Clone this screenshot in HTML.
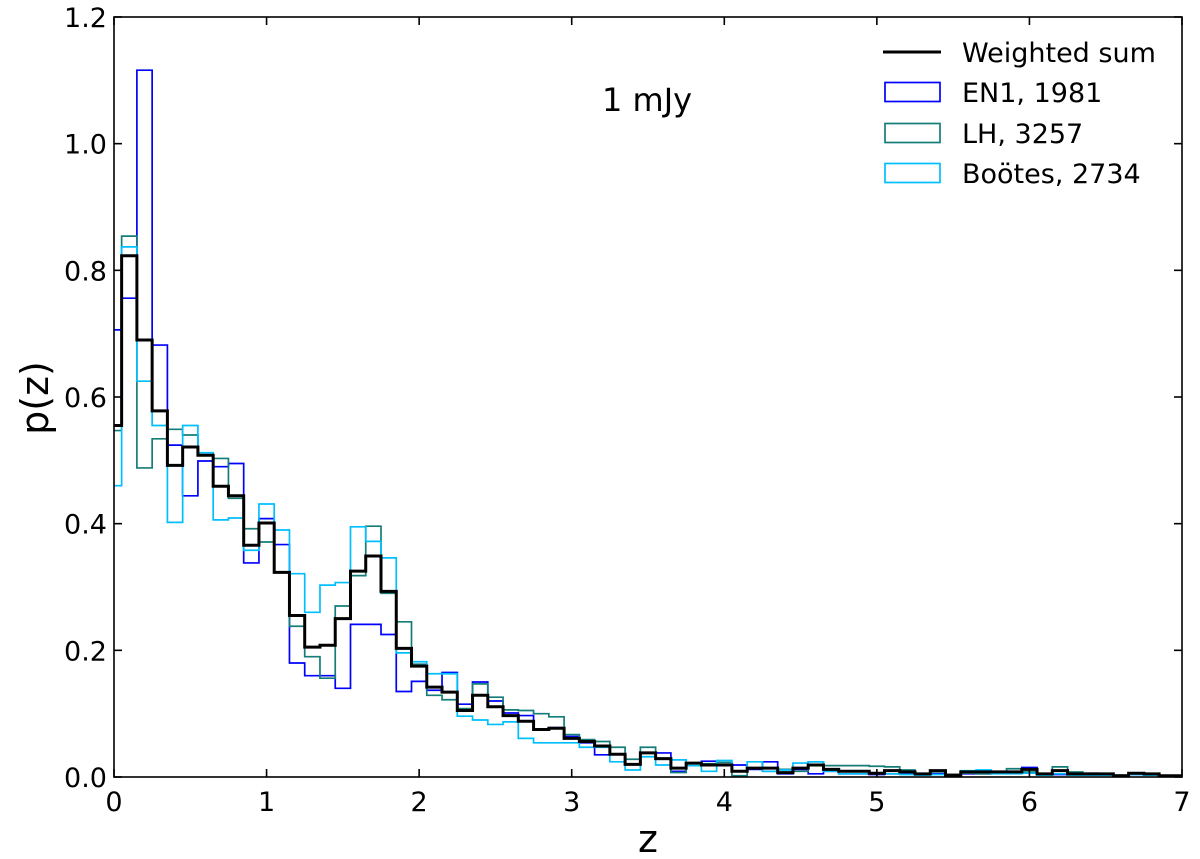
<!DOCTYPE html>
<html><head><meta charset="utf-8">
<style>
html,body{margin:0;padding:0;background:#fff;}
svg{display:block;font-family:"DejaVu Sans","Liberation Sans",sans-serif;}
</style></head>
<body>
<svg id="chart" width="1200" height="859" viewBox="0 0 1200 859" xmlns="http://www.w3.org/2000/svg">
<defs><clipPath id="plotclip"><rect x="114" y="17" width="1068" height="760"/></clipPath></defs>
<g id="series" clip-path="url(#plotclip)"></g>
<g id="axes"></g>
<text x="602" y="111" font-size="32">1 mJy</text>
<g>
  <line x1="883" y1="52" x2="941" y2="52" stroke="#000" stroke-width="3"/>
  <text x="962" y="62" font-size="27">Weighted sum</text>
  <rect x="885" y="82.5" width="55" height="19" fill="none" stroke="#0000ff" stroke-width="1.7"/>
  <text x="962" y="102" font-size="27">EN1, 1981</text>
  <rect x="885" y="123.5" width="55" height="19" fill="none" stroke="#147d78" stroke-width="1.7"/>
  <text x="962" y="143" font-size="27">LH, 3257</text>
  <rect x="885" y="163.5" width="55" height="19" fill="none" stroke="#00bfff" stroke-width="1.7"/>
  <text x="962" y="183" font-size="27">Boötes, 2734</text>
</g>
<text x="0" y="0" font-size="38" text-anchor="middle" transform="translate(48,398) rotate(-90)">p(z)</text>
<text x="648" y="852" font-size="38" text-anchor="middle">z</text>
</svg>
<script>
const binStart = -0.05;
const binWidth = 0.1;
const weightedSum = [0.555,0.823,0.69,0.578,0.492,0.521,0.508,0.459,0.444,0.366,0.401,0.323,0.255,0.205,0.208,0.25,0.325,0.349,0.293,0.203,0.175,0.142,0.134,0.105,0.129,0.111,0.097,0.088,0.075,0.077,0.061,0.056,0.049,0.036,0.020,0.038,0.029,0.014,0.022,0.019,0.019,0.009,0.014,0.014,0.007,0.014,0.019,0.012,0.009,0.009,0.006,0.01,0.008,0.005,0.01,0.003,0.008,0.008,0.008,0.008,0.012,0.005,0.01,0.005,0.005,0.005,0.002,0.006,0.005,0.002,0.002];
const en1 = [0.706,0.756,1.116,0.682,0.524,0.444,0.499,0.49,0.495,0.338,0.408,0.367,0.18,0.16,0.16,0.14,0.241,0.241,0.225,0.135,0.151,0.137,0.165,0.115,0.15,0.12,0.101,0.097,0.074,0.078,0.064,0.054,0.035,0.036,0.020,0.038,0.038,0.009,0.022,0.025,0.019,0.019,0.012,0.024,0.005,0.012,0.005,0.009,0.005,0.005,0.004,0.005,0.005,0.003,0.005,0.002,0.005,0.005,0.006,0.006,0.015,0.005,0.004,0.003,0.003,0.003,0.002,0.004,0.003,0.001,0.001];
const lh = [0.547,0.854,0.488,0.534,0.549,0.540,0.508,0.503,0.44,0.392,0.371,0.323,0.238,0.19,0.156,0.27,0.318,0.396,0.29,0.245,0.178,0.129,0.122,0.108,0.147,0.126,0.106,0.105,0.1,0.095,0.067,0.059,0.056,0.047,0.028,0.047,0.028,0.007,0.022,0.021,0.023,0.002,0.014,0.009,0.012,0.009,0.024,0.018,0.018,0.018,0.017,0.016,0.011,0.005,0.008,0.004,0.006,0.005,0.008,0.013,0.008,0.004,0.016,0.008,0.006,0.005,0.003,0.006,0.005,0.002,0.002];
const bootes = [0.46,0.837,0.625,0.555,0.402,0.555,0.512,0.406,0.409,0.358,0.431,0.39,0.321,0.26,0.303,0.307,0.395,0.372,0.346,0.196,0.182,0.163,0.163,0.096,0.09,0.083,0.087,0.061,0.054,0.054,0.054,0.047,0.047,0.024,0.011,0.032,0.019,0.027,0.018,0.009,0.026,0.009,0.024,0.009,0.011,0.022,0.024,0.009,0.005,0.005,0.005,0.005,0.004,0.003,0.004,0.002,0.01,0.011,0.005,0.005,0.006,0.003,0.005,0.003,0.003,0.003,0.002,0.004,0.003,0.001,0.001];
const xTicks = [0,1,2,3,4,5,6,7];
const xTickLabels = ["0","1","2","3","4","5","6","7"];
const yTicks = [0,0.2,0.4,0.6,0.8,1.0,1.2];
const yTickLabels = ["0.0","0.2","0.4","0.6","0.8","1.0","1.2"];

const X0=114, X1=1182, Y0=777, Y1=17;
function xs(z){return X0+(z-0)/(7-0)*(X1-X0);}
function ys(v){return Y0-(v-0)/(1.2-0)*(Y0-Y1);}
const NS="http://www.w3.org/2000/svg";

function stepPath(vals){
  let d="";
  for(let i=0;i<vals.length;i++){
    const l=xs(binStart+i*binWidth), r=xs(binStart+(i+1)*binWidth), y=ys(vals[i]);
    if(i===0) d+="M"+l.toFixed(2)+","+ys(0).toFixed(2)+"L"+l.toFixed(2)+","+y.toFixed(2);
    else d+="L"+l.toFixed(2)+","+y.toFixed(2);
    d+="L"+r.toFixed(2)+","+y.toFixed(2);
  }
  d+="L"+xs(binStart+vals.length*binWidth).toFixed(2)+","+ys(0).toFixed(2);
  return d;
}
const g=document.getElementById('series');
function addSeries(vals,color,w,name){
  const p=document.createElementNS(NS,'path');
  p.setAttribute('d',stepPath(vals));
  p.setAttribute('fill','none');
  p.setAttribute('stroke',color);
  p.setAttribute('stroke-width',w);
  p.setAttribute('stroke-linejoin','miter');
  
  
  g.appendChild(p);
}
addSeries(en1,'#0000ff',1.7,'series-en1');
addSeries(lh,'#147d78',1.7,'series-lh');
addSeries(bootes,'#00bfff',1.7,'series-bootes');
addSeries(weightedSum,'#000000',3,'series-weighted-sum');

const ax=document.getElementById('axes');
const frame=document.createElementNS(NS,'rect');
frame.setAttribute('x',X0);frame.setAttribute('y',Y1);
frame.setAttribute('width',X1-X0);frame.setAttribute('height',Y0-Y1);
frame.setAttribute('fill','none');frame.setAttribute('stroke','#000');frame.setAttribute('stroke-width','1.6');


ax.appendChild(frame);
function line(x1,y1,x2,y2,name){
  const l=document.createElementNS(NS,'line');
  l.setAttribute('x1',x1);l.setAttribute('y1',y1);l.setAttribute('x2',x2);l.setAttribute('y2',y2);
  l.setAttribute('stroke','#000');l.setAttribute('stroke-width','1.6');
  
  
  ax.appendChild(l);
}
function text(x,y,s,anchor,name){
  const t=document.createElementNS(NS,'text');
  t.setAttribute('x',x);t.setAttribute('y',y);t.setAttribute('font-size','27');t.setAttribute('text-anchor',anchor);
  t.textContent=s;
  
  
  ax.appendChild(t);
}
xTicks.forEach((v,i)=>{
  const x=xs(v);
  line(x,Y0,x,Y0-8,'x-tick');
  line(x,Y1,x,Y1+8,'x-tick-top');
  text(x,811,xTickLabels[i],'middle','x-tick-label');
});
yTicks.forEach((v,i)=>{
  const y=ys(v);
  line(X0,y,X0+8,y,'y-tick');
  line(X1,y,X1-8,y,'y-tick-right');
  text(X0-7,y+10,yTickLabels[i],'end','y-tick-label');
});
</script>
</body></html>
